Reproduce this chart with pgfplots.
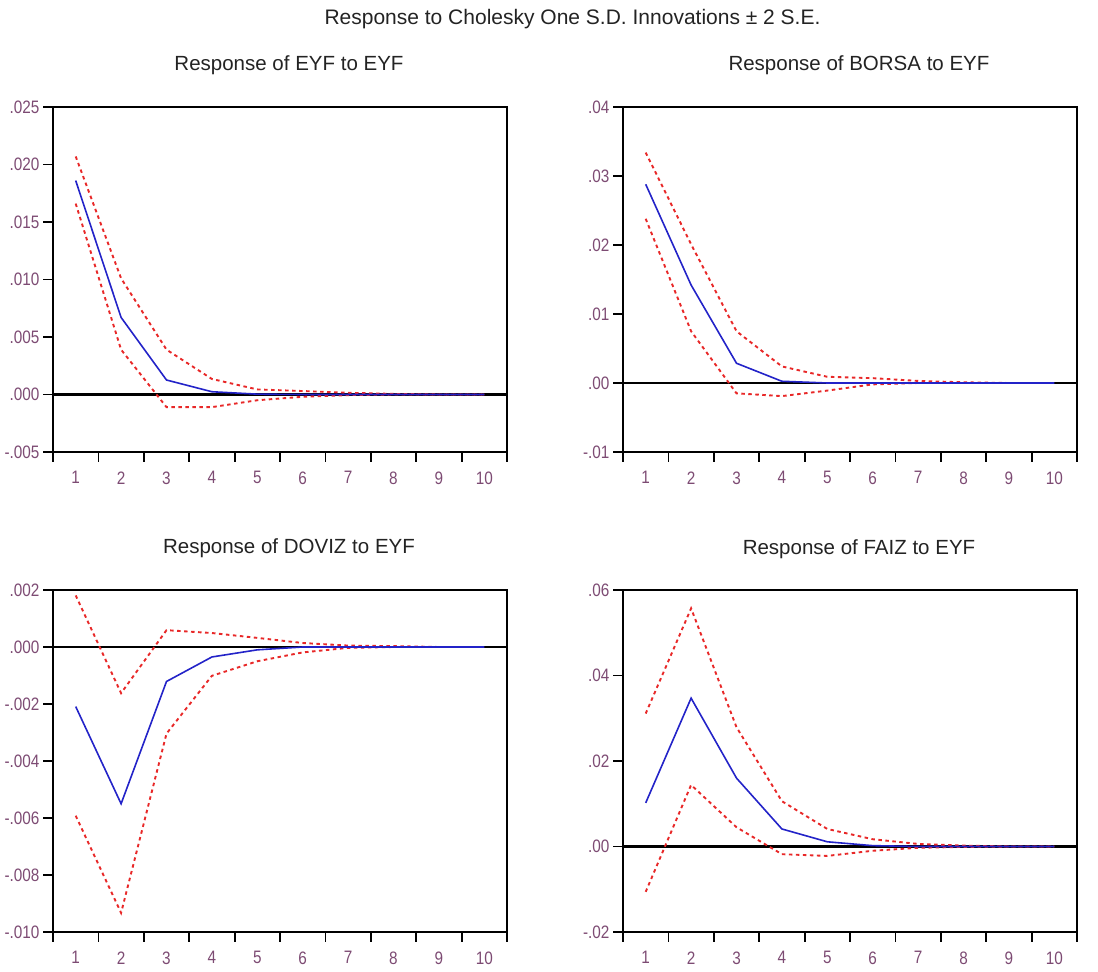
\documentclass[border=0pt]{standalone}
\usepackage{fontspec}
\setmainfont{Liberation Sans}
\newfontfamily\tickfont{Liberation Sans}[FakeStretch=0.85]
\usepackage{pgfplots}
\usepackage{pgfplotstable}
\pgfplotsset{compat=1.18}
\definecolor{irfblue}{RGB}{35,35,200}
\definecolor{bandred}{RGB}{232,40,40}
\definecolor{ticklab}{RGB}{125,75,115}
\definecolor{titlecol}{RGB}{35,35,35}

\pgfplotstableread{
x  m        up       lo
1  0.0186   0.0207   0.0166
2  0.0067   0.0101   0.0039
3  0.00126  0.0039  -0.0011
4  0.00024  0.00135 -0.0011
5  0.00003  0.00044 -0.0005
6  0        0.0003  -0.0002
7  0        0.00015 -0.00005
8  0        0.00005  0
9  0        0        0
10 0        0        0
}\eyf
\pgfplotstableread{
x  m        up       lo
1  0.0288   0.0334   0.0238
2  0.0142   0.0201   0.0075
3  0.00286  0.0075  -0.0015
4  0.00025  0.0024  -0.0019
5  0        0.0009  -0.0011
6  0        0.0007  -0.0002
7  0        0.0003   0
8  0        0.0001   0
9  0        0        0
10 0        0        0
}\borsa
\pgfplotstableread{
x  m         up        lo
1  -0.00209  0.00181  -0.00592
2  -0.0055  -0.00162  -0.00933
3  -0.00121  0.00059  -0.00304
4  -0.00035  0.00049  -0.00101
5  -0.0001   0.00032  -0.0005
6  0         0.00014  -0.00019
7  0         0.00005  -0.00003
8  0         0.00003   0
9  0         0         0
10 0         0         0
}\doviz
\pgfplotstableread{
x  m        up       lo
1  0.0102   0.0311  -0.0106
2  0.0347   0.0557   0.0144
3  0.016    0.0279   0.0045
4  0.0041   0.0106  -0.0018
5  0.0011   0.0041  -0.0022
6  0.0002   0.0017  -0.001
7  0        0.0006  -0.0003
8  0        0.0002  -0.0001
9  0        0        0
10 0        0        0
}\faiz

\pgfplotsset{irf/.style={
  scale only axis, width=454pt, height=345pt, anchor=south west,
  xmin=0.5, xmax=10.5,
  xtick={0.5,1.5,...,10.5}, x tick label as interval,
  xticklabels={1,2,3,4,5,6,7,8,9,10},
  xtick pos=bottom, ytick pos=left, tick align=outside,
  major tick length=10pt,
  scaled y ticks=false,
  axis line style={line width=2pt, black},
  every tick/.style={black, line width=1.8pt},
  tick label style={font=\fontsize{18}{18}\tickfont, text=ticklab},
  xticklabel style={yshift=-6pt},
  title style={font=\fontsize{20.5}{22}\selectfont, text=titlecol, at={(0.5,1)}, anchor=base, yshift=30pt, xshift=9pt},
  band/.style={bandred, line width=1.9pt, dash pattern=on 3.5pt off 3.5pt},
  resp/.style={irfblue, line width=1.6pt},
  zero/.style={black, line width=2.2pt},
}}

\begin{document}
\begin{tikzpicture}
\path[use as bounding box] (0,0) rectangle (1098pt,972pt);
\node[anchor=base, font=\fontsize{21}{22}\selectfont, text=titlecol] at (572.5pt,947pt) {Response to Cholesky One S.D. Innovations ± 2 S.E.};

\begin{axis}[irf, at={(53pt,520pt)}, ymin=-0.005, ymax=0.025,
  ytick={-0.005,0,0.005,0.01,0.015,0.02,0.025},
  yticklabels={-.005,.000,.005,.010,.015,.020,.025},
  title={Response of EYF to EYF}]
\addplot[zero] coordinates {(0.5,0) (10.5,0)};
\addplot[band] table[x=x,y=up]{\eyf};
\addplot[band] table[x=x,y=lo]{\eyf};
\addplot[resp] table[x=x,y=m]{\eyf};
\end{axis}

\begin{axis}[irf, at={(623pt,520pt)}, ymin=-0.01, ymax=0.04,
  ytick={-0.01,0,0.01,0.02,0.03,0.04},
  yticklabels={-.01,.00,.01,.02,.03,.04},
  title={Response of BORSA to EYF}]
\addplot[zero] coordinates {(0.5,0) (10.5,0)};
\addplot[band] table[x=x,y=up]{\borsa};
\addplot[band] table[x=x,y=lo]{\borsa};
\addplot[resp] table[x=x,y=m]{\borsa};
\end{axis}

\begin{axis}[irf, at={(53pt,40pt)}, height=342pt, ymin=-0.010, ymax=0.002,
  ytick={-0.010,-0.008,-0.006,-0.004,-0.002,0,0.002},
  yticklabels={-.010,-.008,-.006,-.004,-.002,.000,.002},
  title={Response of DOVIZ to EYF}]
\addplot[zero] coordinates {(0.5,0) (10.5,0)};
\addplot[band] table[x=x,y=up]{\doviz};
\addplot[band] table[x=x,y=lo]{\doviz};
\addplot[resp] table[x=x,y=m]{\doviz};
\end{axis}

\begin{axis}[irf, at={(623pt,40pt)}, height=342pt, ymin=-0.02, ymax=0.06,
  ytick={-0.02,0,0.02,0.04,0.06},
  yticklabels={-.02,.00,.02,.04,.06},
  title={Response of FAIZ to EYF}]
\addplot[zero] coordinates {(0.5,0) (10.5,0)};
\addplot[band] table[x=x,y=up]{\faiz};
\addplot[band] table[x=x,y=lo]{\faiz};
\addplot[resp] table[x=x,y=m]{\faiz};
\end{axis}
\end{tikzpicture}
\end{document}
